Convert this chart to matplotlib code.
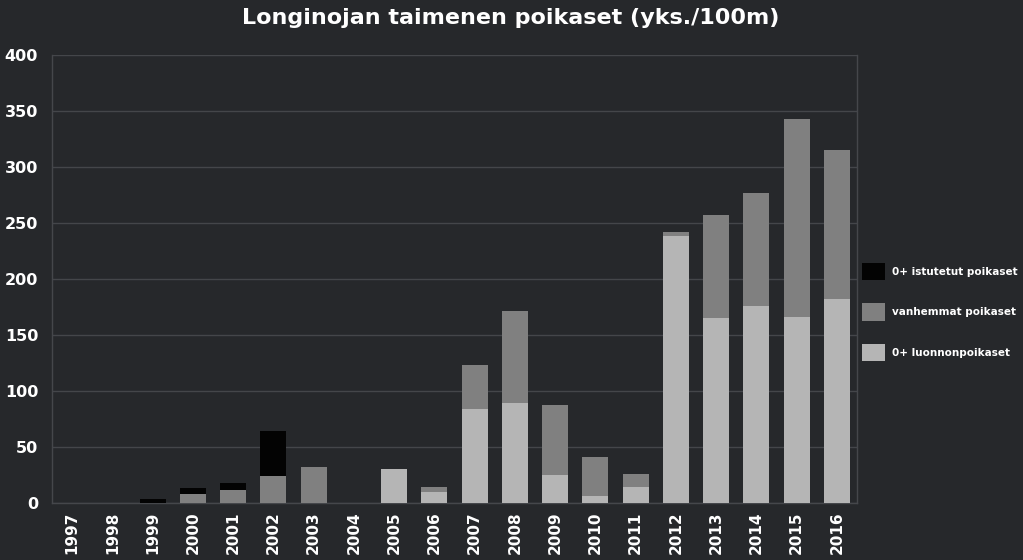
'''
 Stacked bar chart of the trout fry densities in Longinoja
'''
import matplotlib
matplotlib.use('Agg')
import matplotlib.pyplot as plt
import numpy as np

# Data
years = [str(y) for y in range(1997, 2017)]
luonnon = [0, 0, 0, 0, 0, 0, 0, 0, 30.5, 10, 84, 89, 25, 6, 14, 238, 165, 176, 166, 182]
vanhemmat = [0, 0, 0, 8, 12, 24, 32, 0, 0, 4, 39, 82, 62, 35, 12, 4, 92, 101, 177, 133]
istutetut = [0, 0, 4, 5, 6, 40, 0, 0, 0, 0, 0, 0, 0, 0, 0, 0, 0, 0, 0, 0]
y_ticks = [0, 50, 100, 150, 200, 250, 300, 350, 400]

bg = '#26282b'
plt.rcParams['font.family'] = ['DejaVu Sans']

fig = plt.figure(figsize=(10.23, 5.6), dpi=100, facecolor=bg)
ax = fig.add_axes([0.0508, 0.1018, 0.7869, 0.8005], facecolor=bg)

x = np.arange(len(years))
w = 0.65
bottom2 = np.array(luonnon)
bottom3 = bottom2 + np.array(vanhemmat)

ax.bar(x, luonnon, w, color='#b5b5b5', label='0+ luonnonpoikaset', zorder=3)
ax.bar(x, vanhemmat, w, bottom=bottom2, color='#808080', label='vanhemmat poikaset', zorder=3)
ax.bar(x, istutetut, w, bottom=bottom3, color='#030303', label='0+ istutetut poikaset', zorder=3)

ax.set_xlim(-0.5, len(years) - 0.5)
ax.set_ylim(0, 400)
ax.set_yticks(y_ticks)
ax.set_xticks(x)
ax.set_xticklabels(years, rotation=90)
ax.yaxis.grid(True, color='#44464a', linewidth=1, zorder=0)

for t in ax.get_yticklabels():
    t.set_fontsize(11.5)
    t.set_fontweight('bold')
    t.set_color('white')
for t in ax.get_xticklabels():
    t.set_fontsize(11)
    t.set_fontweight('bold')
    t.set_color('white')
ax.tick_params(length=0, pad=6)
ax.tick_params(axis='y', pad=10)

ax.spines['top'].set_visible(False)
for s in ['left', 'right', 'bottom']:
    ax.spines[s].set_color('#45474b')
    ax.spines[s].set_linewidth(1)

# Legend on the right, black entry on top
h, l = ax.get_legend_handles_labels()
leg = fig.legend(h[::-1], l[::-1], loc='center left', bbox_to_anchor=(0.8426, 0.443),
                 frameon=False, borderpad=0, borderaxespad=0,
                 handlelength=2.2, handleheight=2.2, labelspacing=2.2, handletextpad=0.7,
                 prop={'weight': 'semibold', 'size': 7.5})
for t in leg.get_texts():
    t.set_color('white')

fig.suptitle('Longinojan taimenen poikaset (yks./100m)', x=0.499, y=0.985,
             fontsize=16, fontweight='bold', color='white')

fig.savefig('out.png', dpi=100, facecolor=bg)
